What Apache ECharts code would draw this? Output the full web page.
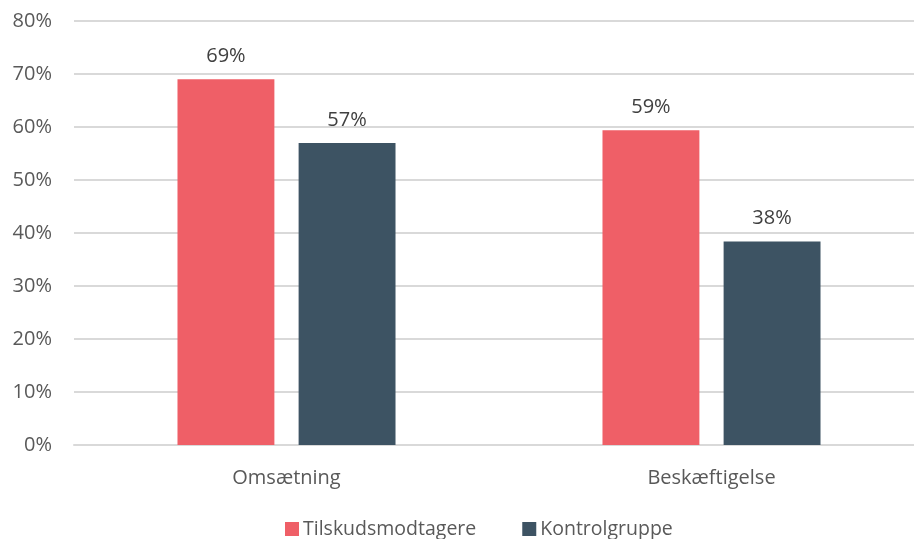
<!DOCTYPE html>
<html><head><meta charset="utf-8">
<script src="https://cdn.jsdelivr.net/npm/echarts@6/dist/echarts.min.js"></script>
<style>html,body{margin:0;padding:0;background:#fff}#c{width:914px;height:539px}</style>
</head><body><div id="c"></div>
<script>
const categories = ['Omsætning', 'Beskæftigelse'];
const seriesNames = ['Tilskudsmodtagere', 'Kontrolgruppe'];
const tilskud = [0.69, 0.594];
const kontrol = [0.57, 0.384];
const yTicks = [0, 0.1, 0.2, 0.3, 0.4, 0.5, 0.6, 0.7, 0.8];

const font = '"Open Sans", "Liberation Sans", sans-serif';
const chart = echarts.init(document.getElementById('c'));
const pct = v => Math.round(v * 100) + '%';
chart.setOption({
  animation: false,
  textStyle: { fontFamily: font },
  grid: { left: 74, width: 850, top: 21, bottom: 94, containLabel: false, outerBoundsMode: 'none' },
  legend: {
    data: seriesNames, bottom: -5, left: 280, itemWidth: 14, itemHeight: 14, itemGap: 46,
    icon: 'rect',
    textStyle: { fontFamily: font, fontSize: 19.5, color: '#595959', padding: [0, 0, 0, -1] }
  },
  xAxis: {
    type: 'category', data: categories,
    axisLine: { lineStyle: { color: '#D9D9D9', width: 2 } },
    axisTick: { show: false },
    axisLabel: { color: '#595959', fontSize: 20, margin: 23, fontFamily: font }
  },
  yAxis: {
    type: 'value', min: yTicks[0], max: yTicks[yTicks.length - 1], interval: 0.1,
    axisLine: { show: false }, axisTick: { show: false },
    splitLine: { lineStyle: { color: '#D9D9D9', width: 2 } },
    axisLabel: { color: '#595959', fontSize: 20, margin: 22, formatter: pct, fontFamily: font }
  },
  series: [
    { name: seriesNames[0], type: 'bar', data: tilskud, barWidth: '22.8%', barGap: '25%',
      itemStyle: { color: '#EF5F67' },
      label: { show: true, position: 'top', distance: 13, formatter: p => pct(p.value), color: '#404040', fontSize: 20, fontFamily: font } },
    { name: seriesNames[1], type: 'bar', data: kontrol, barWidth: '22.8%', barGap: '25%',
      itemStyle: { color: '#3D5363' },
      label: { show: true, position: 'top', distance: 13, formatter: p => pct(p.value), color: '#404040', fontSize: 20, fontFamily: font } }
  ]
});
</script></body></html>
